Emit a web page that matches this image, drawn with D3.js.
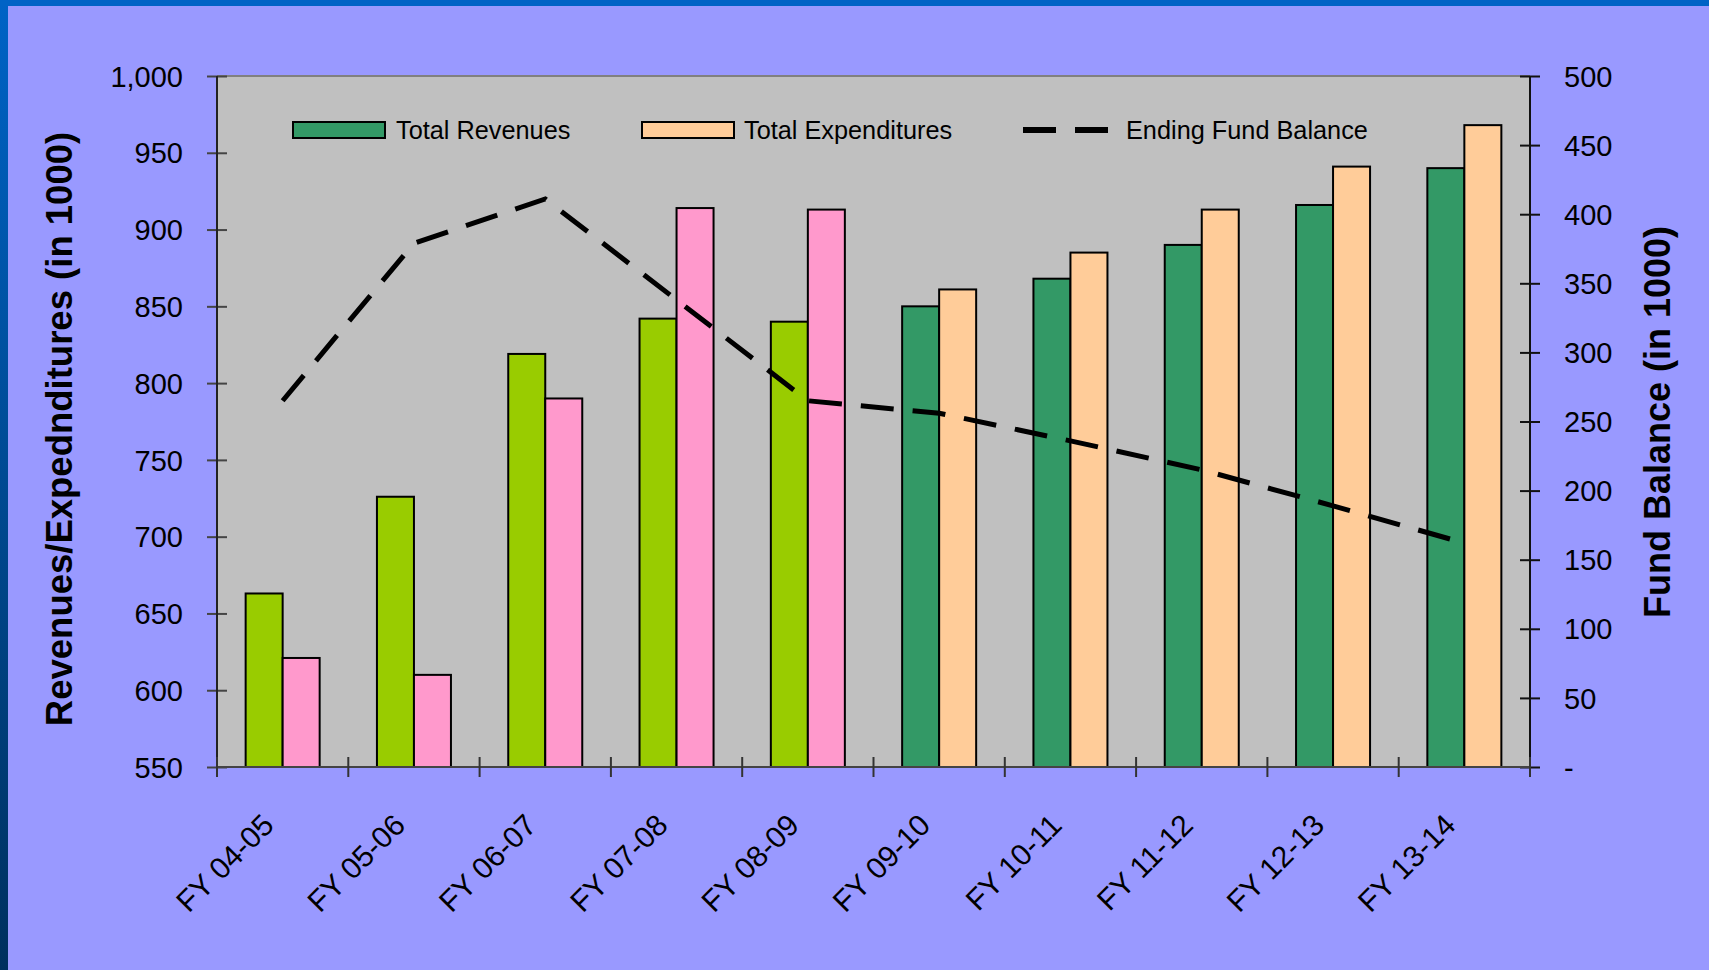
<!DOCTYPE html>
<html>
<head>
<meta charset="utf-8">
<script src="https://cdn.jsdelivr.net/npm/d3@7/dist/d3.min.js"></script>
<style>
html, body { margin: 0; padding: 0; background: #9999FF; }
svg { display: block; }
text { font-family: "Liberation Sans", Arial, sans-serif; fill: #000; }
</style>
</head>
<body>
<svg id="chart" width="1709" height="970"></svg>
<script>
// ---- Data ----
const categories = ["FY 04-05", "FY 05-06", "FY 06-07", "FY 07-08", "FY 08-09",
                    "FY 09-10", "FY 10-11", "FY 11-12", "FY 12-13", "FY 13-14"];
const status = ["actual", "actual", "actual", "actual", "actual",
                "projected", "projected", "projected", "projected", "projected"];
const totalRevenues = [663, 726, 819, 842, 840, 850, 868, 890, 916, 940];
const totalExpenditures = [621, 610, 790, 914, 913, 861, 885, 913, 941, 968];
const endingFundBalance = [265, 379, 411, 338, 265, 256, 236, 215, 189, 162];
const leftTicks = [550, 600, 650, 700, 750, 800, 850, 900, 950, 1000];
const rightTicks = [0, 50, 100, 150, 200, 250, 300, 350, 400, 450, 500];
const seriesNames = ["Total Revenues", "Total Expenditures", "Ending Fund Balance"];
const leftTitle = "Revenues/Expednditures (in 1000)";
const rightTitle = "Fund Balance (in 1000)";

// ---- Layout ----
const W = 1709, H = 970;
const plot = { left: 217, right: 1530, top: 76, bottom: 767 };
const colors = {
  actual: { rev: "#99CC00", exp: "#FF99CC" },
  projected: { rev: "#339966", exp: "#FFCC99" }
};

const svg = d3.select("#chart");

// Frame / background
const defs = svg.append("defs");
const grad = defs.append("linearGradient").attr("id", "frameGrad")
  .attr("x1", 0).attr("y1", 0).attr("x2", 0).attr("y2", 1);
grad.append("stop").attr("offset", "0%").attr("stop-color", "#0063C6");
grad.append("stop").attr("offset", "100%").attr("stop-color", "#00305E");
svg.append("rect").attr("x", 0).attr("y", 0).attr("width", W).attr("height", H).attr("fill", "#9999FF");
svg.append("rect").attr("x", 0).attr("y", 0).attr("width", 8).attr("height", H).attr("fill", "url(#frameGrad)");
svg.append("rect").attr("x", 0).attr("y", 0).attr("width", W).attr("height", 6).attr("fill", "#0063C6");

// Scales
const x = d3.scaleBand().domain(categories).range([plot.left, plot.right]).paddingInner(0).paddingOuter(0);
const x1 = d3.scaleBand().domain(["rev", "exp"]).range([0, x.bandwidth()]).paddingInner(0).paddingOuter(0.774);
const yL = d3.scaleLinear().domain([550, 1000]).range([plot.bottom, plot.top]);
const yR = d3.scaleLinear().domain([0, 500]).range([plot.bottom, plot.top]);

// Plot area
svg.append("rect").attr("x", plot.left).attr("y", plot.top)
  .attr("width", plot.right - plot.left).attr("height", plot.bottom - plot.top)
  .attr("fill", "#C0C0C0");
svg.append("line").attr("x1", plot.left).attr("x2", plot.right)
  .attr("y1", plot.top).attr("y2", plot.top).attr("stroke", "#808080").attr("stroke-width", 2);

// Bars
const rows = categories.map((c, i) => ({ c, i, rev: totalRevenues[i], exp: totalExpenditures[i], st: status[i] }));
const g = svg.append("g");
rows.forEach(r => {
  ["rev", "exp"].forEach(k => {
    g.append("rect")
      .attr("x", x(r.c) + x1(k))
      .attr("y", yL(r[k]))
      .attr("width", x1.bandwidth())
      .attr("height", yL(550) - yL(r[k]))
      .attr("fill", colors[r.st][k])
      .attr("stroke", "#000").attr("stroke-width", 2);
  });
});

// Left axis
const leftAxis = d3.axisLeft(yL).tickValues(leftTicks).tickSize(0).tickFormat(d3.format(","));
const gL = svg.append("g").attr("transform", `translate(${plot.left},0)`).call(leftAxis);
gL.select(".domain").remove();
gL.selectAll(".tick text").attr("x", -34).attr("dy", "0.35em").style("font-size", "29px").style("font-family", "'Liberation Sans', Arial, sans-serif");
gL.selectAll(".tick").append("line").attr("x1", -10).attr("x2", 10).attr("stroke", "#444").attr("stroke-width", 2);
svg.append("line").attr("x1", plot.left).attr("x2", plot.left).attr("y1", plot.top).attr("y2", plot.bottom)
  .attr("stroke", "#222").attr("stroke-width", 2);

// Right axis
const rightAxis = d3.axisRight(yR).tickValues(rightTicks).tickSize(0).tickFormat(d => d === 0 ? "-" : d3.format(",")(d));
const gR = svg.append("g").attr("transform", `translate(${plot.right},0)`).call(rightAxis);
gR.select(".domain").remove();
gR.selectAll(".tick text").attr("x", 34).attr("dy", "0.35em").style("font-size", "29px").style("font-family", "'Liberation Sans', Arial, sans-serif");
gR.selectAll(".tick").append("line").attr("x1", -10).attr("x2", 10).attr("stroke", "#111").attr("stroke-width", 2);
svg.append("line").attr("x1", plot.right).attr("x2", plot.right).attr("y1", plot.top).attr("y2", plot.bottom + 10)
  .attr("stroke", "#111").attr("stroke-width", 2);

// Bottom axis
svg.append("line").attr("x1", plot.left).attr("x2", plot.right).attr("y1", plot.bottom).attr("y2", plot.bottom)
  .attr("stroke", "#444").attr("stroke-width", 2);
const bounds = categories.map(c => x(c)).concat([plot.right]);
svg.append("g").selectAll("line").data(bounds).join("line")
  .attr("x1", d => d).attr("x2", d => d).attr("y1", plot.bottom - 10).attr("y2", plot.bottom + 10)
  .attr("stroke", "#333").attr("stroke-width", 2);
svg.append("g").selectAll("text").data(categories).join("text")
  .attr("transform", d => `translate(${x(d) + x.bandwidth() / 2 - 7},${plot.bottom + 60}) rotate(-45)`)
  .attr("text-anchor", "end")
  .style("font-size", "30px")
  .text(d => d);

// Fund balance line
const line = d3.line().x((d, i) => x(categories[i]) + x.bandwidth() / 2).y(d => yR(d));
svg.append("path").datum(endingFundBalance).attr("d", line)
  .attr("fill", "none").attr("stroke", "#000").attr("stroke-width", 5)
  .attr("stroke-dasharray", "33,19");

// Legend
const lg = svg.append("g");
const legendY = 130;
lg.append("rect").attr("x", 293).attr("y", legendY - 8).attr("width", 92).attr("height", 16)
  .attr("fill", colors.projected.rev).attr("stroke", "#000").attr("stroke-width", 2);
lg.append("text").attr("x", 396).attr("y", legendY + 9).style("font-size", "25.3px").text(seriesNames[0]);
lg.append("rect").attr("x", 642).attr("y", legendY - 8).attr("width", 92).attr("height", 16)
  .attr("fill", colors.projected.exp).attr("stroke", "#000").attr("stroke-width", 2);
lg.append("text").attr("x", 744).attr("y", legendY + 9).style("font-size", "25.3px").text(seriesNames[1]);
lg.append("line").attr("x1", 1023).attr("x2", 1109).attr("y1", legendY).attr("y2", legendY)
  .attr("stroke", "#000").attr("stroke-width", 6).attr("stroke-dasharray", "33,19");
lg.append("text").attr("x", 1126).attr("y", legendY + 9).style("font-size", "25.3px").text(seriesNames[2]);

// Axis titles
svg.append("text").attr("transform", `translate(72,429) rotate(-90)`).attr("text-anchor", "middle")
  .style("font-size", "36.5px").style("font-weight", "bold").text(leftTitle);
svg.append("text").attr("transform", `translate(1670,422) rotate(-90)`).attr("text-anchor", "middle")
  .style("font-size", "36px").style("font-weight", "bold").text(rightTitle);
</script>
</body>
</html>
